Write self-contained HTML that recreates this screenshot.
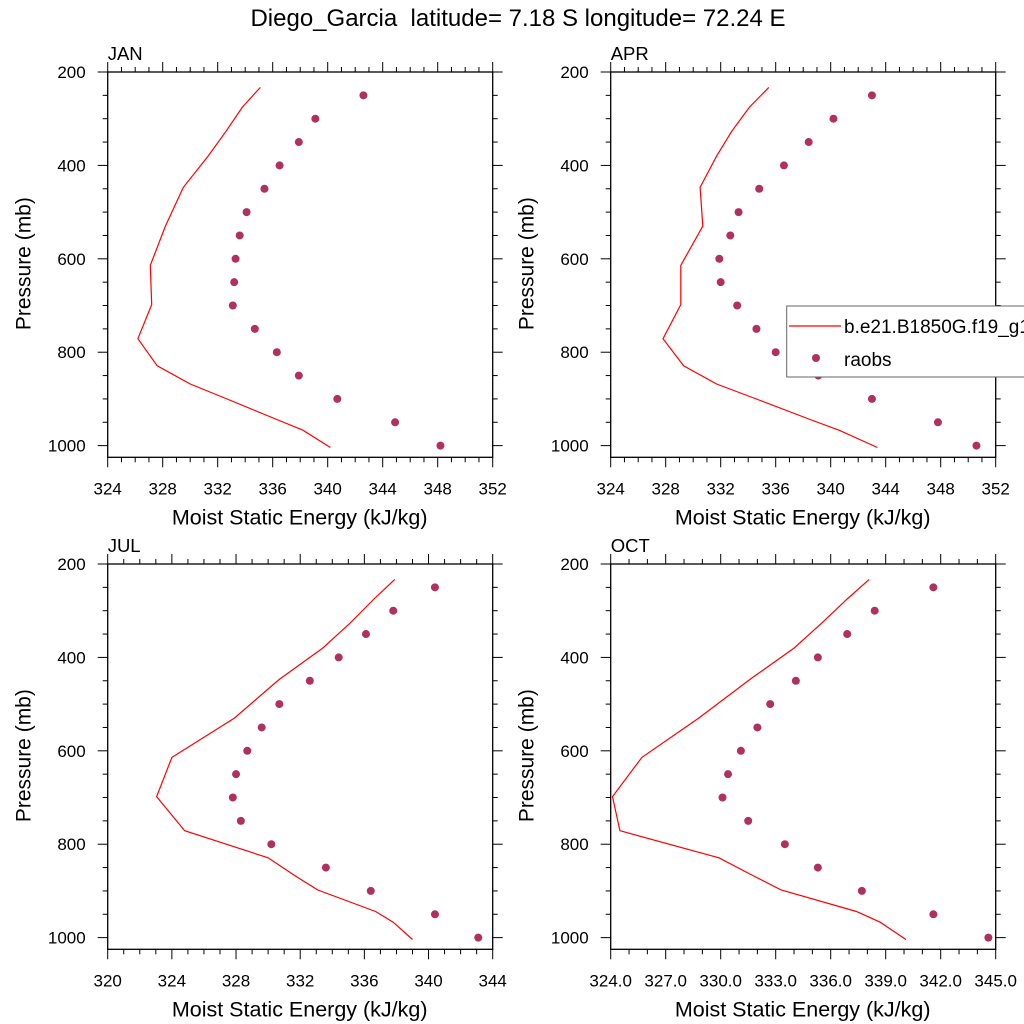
<!DOCTYPE html>
<html><head><meta charset="utf-8"><style>
body{margin:0;background:#fff;}
svg{display:block;font-family:"Liberation Sans",sans-serif;}
</style></head><body>
<svg id="fig" width="1024" height="1024" viewBox="0 0 1024 1024">
<text x="518" y="26" text-anchor="middle" font-size="24" style="white-space:pre">Diego_Garcia  latitude= 7.18 S longitude= 72.24 E</text>
</svg>
<script>
const modelP = [233,275,327,380,447,530,614,698,771,829,868,898,944,967,1004];
const obsP = [250,300,350,400,450,500,550,600,650,700,750,800,850,900,950,1000];
const janModel = [335.1,333.8,332.6,331.3,329.5,328.2,327.1,327.2,326.2,327.6,330.0,332.5,336.3,338.2,340.2];
const janObs = [342.6,339.1,337.9,336.5,335.4,334.1,333.6,333.3,333.2,333.1,334.7,336.3,337.9,340.7,344.9,348.2];
const aprModel = [335.5,334.1,332.8,331.7,330.5,330.7,329.1,329.1,327.8,329.3,331.7,334.4,338.5,340.6,343.4];
const aprObs = [343.0,340.2,338.4,336.6,334.8,333.3,332.7,331.9,332.0,333.2,334.6,336.0,339.1,343.0,347.8,350.6];
const julModel = [337.9,336.6,335.1,333.4,330.7,327.9,324.0,323.05,324.8,330.0,331.7,333.1,336.7,337.8,339.0];
const julObs = [340.4,337.8,336.1,334.4,332.6,330.7,329.6,328.7,328.0,327.8,328.3,330.2,333.6,336.4,340.4,343.1];
const octModel = [338.1,336.9,335.5,334.0,331.6,328.8,325.7,324.1,324.5,329.9,331.8,333.3,337.4,338.7,340.1];
const octObs = [341.6,338.4,336.9,335.3,334.1,332.7,332.0,331.1,330.4,330.1,331.5,333.5,335.3,337.7,341.6,344.6];
const janTicks = [324,328,332,336,340,344,348,352];
const aprTicks = [324,328,332,336,340,344,348,352];
const julTicks = [320,324,328,332,336,340,344];
const octTicks = [324,327,330,333,336,339,342,345];
const yTicks = [200,400,600,800,1000];

const NS='http://www.w3.org/2000/svg';
const svg=document.getElementById('fig');
function mk(tag,attrs,parent){const e=document.createElementNS(NS,tag);for(const k in attrs)e.setAttribute(k,attrs[k]);(parent||svg).appendChild(e);return e;}

const panels=[
 {id:'jan',label:'JAN',x0:107.7,y0:72,model:janModel,obs:janObs,ticks:janTicks,minor:1,dec:0},
 {id:'apr',label:'APR',x0:610.7,y0:72,model:aprModel,obs:aprObs,ticks:aprTicks,minor:1,dec:0},
 {id:'jul',label:'JUL',x0:107.7,y0:564,model:julModel,obs:julObs,ticks:julTicks,minor:1,dec:0},
 {id:'oct',label:'OCT',x0:610.7,y0:564,model:octModel,obs:octObs,ticks:octTicks,minor:1,dec:1}
];
const W=385,H=385.3,pMin=200,pMax=1025;
panels.forEach(pn=>{
  const g=mk('g',{});
  
  
  const xmin=pn.ticks[0],xmax=pn.ticks[pn.ticks.length-1];
  const sx=v=>pn.x0+(v-xmin)/(xmax-xmin)*W;
  const sy=p=>pn.y0+(p-pMin)/(pMax-pMin)*H;
  const pts=pn.model.map((v,i)=>sx(v).toFixed(1)+','+sy(modelP[i]).toFixed(1)).join(' ');
  const line=mk('polyline',{points:pts,fill:'none',stroke:'#ff0000','stroke-width':1.2},g);
  
  
  pn.obs.forEach((v,i)=>{
    const c=mk('circle',{cx:sx(v),cy:sy(obsP[i]),r:4,fill:'#b03060'},g);
    
    
  });
  const fr=mk('rect',{x:pn.x0,y:pn.y0,width:W,height:H,fill:'none',stroke:'#000','stroke-width':1.3},g);
  
  
  for(let v=xmin;v<=xmax+1e-9;v+=pn.minor){
    const major=pn.ticks.some(t=>Math.abs(t-v)<1e-6);
    const L=major?10:5,x=sx(v);
    mk('line',{x1:x,y1:pn.y0,x2:x,y2:pn.y0-L,stroke:'#000','stroke-width':1},g);
    mk('line',{x1:x,y1:pn.y0+H,x2:x,y2:pn.y0+H+L,stroke:'#000','stroke-width':1},g);
  }
  pn.ticks.forEach(t=>{
    const tx=mk('text',{x:sx(t),y:pn.y0+H+37,'text-anchor':'middle','font-size':17},g);
    tx.textContent=t.toFixed(pn.dec);
    
    
  });
  for(let p=200;p<=1000;p+=50){
    const major=yTicks.includes(p),L=major?10:5,y=sy(p);
    mk('line',{x1:pn.x0,y1:y,x2:pn.x0-L,y2:y,stroke:'#000','stroke-width':1},g);
    mk('line',{x1:pn.x0+W,y1:y,x2:pn.x0+W+L,y2:y,stroke:'#000','stroke-width':1},g);
  }
  yTicks.forEach(p=>{
    const tx=mk('text',{x:pn.x0-22,y:sy(p)+6,'text-anchor':'end','font-size':17},g);
    tx.textContent=p;
    
    
  });
  const xt=mk('text',{x:pn.x0+W/2-0.5,y:pn.y0+H+67,'text-anchor':'middle','font-size':21.5},g);
  xt.textContent='Moist Static Energy (kJ/kg)';
  
  
  const yt=mk('text',{x:0,y:0,'text-anchor':'middle','font-size':21,transform:`translate(${pn.x0-77},${pn.y0+H/2-1}) rotate(-90)`},g);
  yt.textContent='Pressure (mb)';
  
  
  const lb=mk('text',{x:pn.x0,y:pn.y0-12,'font-size':18.5},g);
  lb.textContent=pn.label;
  
  
});
const lg=mk('g',{});


mk('rect',{x:786.7,y:306,width:260,height:71,fill:'#fff',stroke:'#666','stroke-width':1},lg);
const ll=mk('line',{x1:789,y1:326,x2:841,y2:326,stroke:'#ff0000','stroke-width':1.2},lg);


const lt1=mk('text',{x:844,y:333,'font-size':19},lg);
lt1.textContent='b.e21.B1850G.f19_g16.CAM';


const lc=mk('circle',{cx:816,cy:358,r:4,fill:'#b03060'},lg);


const lt2=mk('text',{x:844,y:366,'font-size':19},lg);
lt2.textContent='raobs';


</script>
</body></html>
